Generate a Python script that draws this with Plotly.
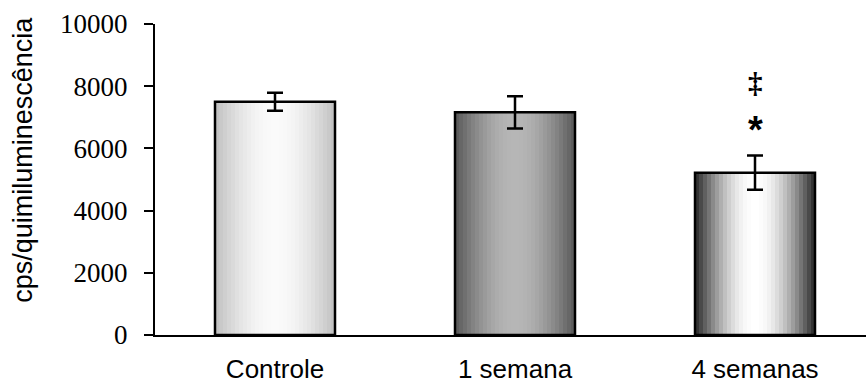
import math
import plotly.graph_objects as go

# ---- data ----
categories = ["Controle", "1 semana", "4 semanas"]
means = [7500, 7160, 5220]
errors = [290, 520, 550]
y_ticks = [0, 2000, 4000, 6000, 8000, 10000]
y_tick_labels = ["0", "2000", "4000", "6000", "8000", "10000"]
marks = ["", "", "‡"]
marks2 = ["", "", "*"]

# ---- style ----
edge_grey = [192, 88, 40]
center_grey = [250, 182, 255]
bar_width = 0.5
n_strips = 30

fig = go.Figure()

sw = bar_width / n_strips
for k in range(n_strips):
    t = (k + 0.5) / n_strips
    f = math.sin(math.pi * t)
    cols = []
    for e, c in zip(edge_grey, center_grey):
        g = int(round(e + (c - e) * f))
        cols.append(f"rgb({g},{g},{g})")
    fig.add_trace(go.Bar(
        x=categories, y=means,
        offset=-bar_width / 2 + k * sw, width=sw * 1.08,
        marker=dict(color=cols, line=dict(width=0)),
        showlegend=False, hoverinfo="skip",
    ))

fig.add_trace(go.Bar(
    x=categories, y=means, width=bar_width,
    marker=dict(color="rgba(0,0,0,0)", line=dict(color="black", width=2.5)),
    error_y=dict(type="data", array=errors, visible=True,
                 color="black", thickness=2.5, width=8),
    showlegend=False,
))

for cat, m, e, s1, s2 in zip(categories, means, errors, marks, marks2):
    if s1:
        fig.add_annotation(x=cat, y=8100, text=f"<b>{s1}</b>", showarrow=False,
                           font=dict(family="Liberation Serif", size=29, color="black"))
    if s2:
        fig.add_annotation(x=cat, y=6600, text=f"<b>{s2}</b>", showarrow=False,
                           font=dict(family="Liberation Sans", size=38, color="black"))

fig.add_annotation(xref="paper", yref="paper", x=-0.1857, y=0.563,
                   xanchor="center", yanchor="middle",
                   text="cps/quimiluminescência", textangle=-90, showarrow=False,
                   font=dict(family="Liberation Sans", size=27, color="black"))

fig.update_layout(
    width=866, height=390,
    margin=dict(l=155, r=0, t=24, b=55),
    paper_bgcolor="white", plot_bgcolor="white",
    barmode="overlay",
    xaxis=dict(range=[-0.5, 2.4625], showline=True, linecolor="black", linewidth=2,
               ticks="", showgrid=False, zeroline=False,
               tickfont=dict(family="Liberation Sans", size=26, color="black"),
               ticklabelstandoff=10),
    yaxis=dict(range=[0, 10000], tickvals=y_ticks, ticktext=y_tick_labels,
               showline=True, linecolor="black",
               linewidth=2, ticks="outside", ticklen=9, tickwidth=2, tickcolor="black",
               showgrid=False, zeroline=False,
               tickfont=dict(family="Liberation Serif", size=27, color="black"),
               ticklabelstandoff=11),
)

fig.write_html("out.html")
